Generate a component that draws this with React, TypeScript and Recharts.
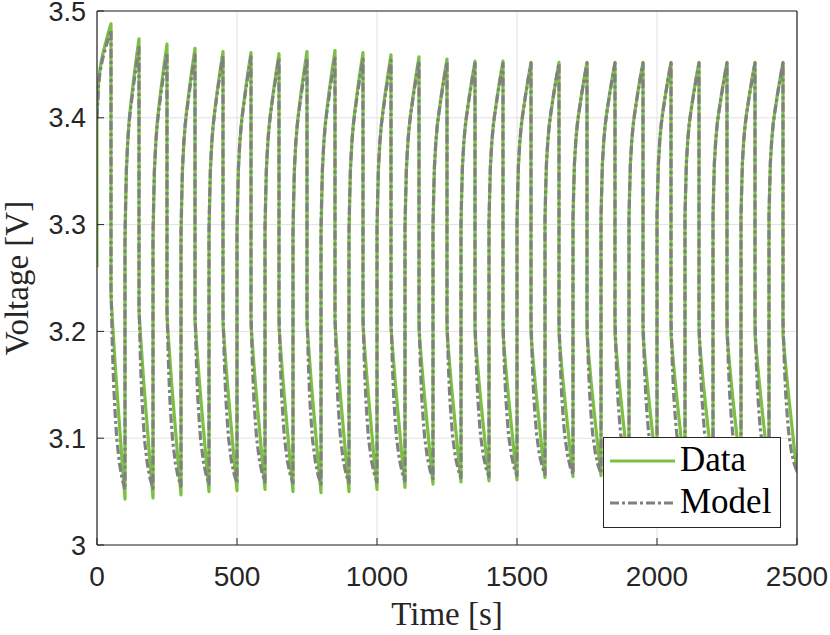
import { CartesianGrid, Label, Legend, Line, LineChart, XAxis, YAxis } from "recharts";

const timeTicks = [0, 500, 1000, 1500, 2000, 2500];
const voltageTicks = [3, 3.1, 3.2, 3.3, 3.4, 3.5];

// pulse timing [s]
const cyclePeriod = 100;
const halfPeriod = 50;

// voltage at t = 0, 100, ..., 2500 (start of each charge pulse / end of each rest-discharge)
const dataMins = [
  3.26, 3.043, 3.044, 3.047, 3.05, 3.051, 3.052, 3.05, 3.049, 3.05, 3.052, 3.054, 3.057,
  3.059, 3.06, 3.061, 3.063, 3.064, 3.065, 3.066, 3.066, 3.067, 3.067, 3.067, 3.068, 3.068,
];
const modelMins = [
  3.4, 3.052, 3.053, 3.055, 3.057, 3.058, 3.059, 3.058, 3.057, 3.058, 3.059, 3.06, 3.062,
  3.063, 3.064, 3.065, 3.066, 3.066, 3.067, 3.067, 3.068, 3.068, 3.068, 3.068, 3.069, 3.069,
];

// voltage at the end of each charge pulse (t = 50, 150, ...)
const dataPeaks = [
  3.488, 3.474, 3.469, 3.465, 3.462, 3.461, 3.46, 3.462, 3.463, 3.461, 3.459, 3.457, 3.455,
  3.453, 3.453, 3.452, 3.452, 3.452, 3.452, 3.452, 3.452, 3.452, 3.452, 3.452, 3.452,
];
const modelPeaks = [
  3.482, 3.466, 3.461, 3.459, 3.458, 3.457, 3.456, 3.456, 3.456, 3.455, 3.454, 3.453, 3.452,
  3.451, 3.451, 3.451, 3.451, 3.451, 3.451, 3.451, 3.451, 3.451, 3.451, 3.451, 3.451,
];

const firstPulseStart = 3.4;
const chargeStep = 0.24;
const dataDrop = 0.255;
const modelDrop = 0.24;

// shape of the voltage inside one half cycle (0 = start level, 1 = end level)
const riseOffsets = [0, 2, 5, 10, 15, 20, 30, 40, 50];
const riseShape = [0, 0.15, 0.35, 0.5, 0.6, 0.67, 0.79, 0.9, 1];
const decayOffsets = [0, 5, 10, 15, 20, 30, 40, 50];
const dataDecayShape = [0, 0.12, 0.23, 0.34, 0.44, 0.63, 0.82, 1];
const modelDecayShape = [0, 0.3, 0.5, 0.63, 0.74, 0.87, 0.95, 1];

const buildSeries = (mins: number[], peaks: number[], drop: number, decayShape: number[]) => {
  const pts: { t: number; v: number }[] = [];
  peaks.forEach((peak, k) => {
    const t0 = k * cyclePeriod;
    const start = k === 0 ? firstPulseStart : mins[k] + chargeStep;
    pts.push({ t: t0, v: mins[k] });
    riseOffsets.forEach((dt, i) => {
      pts.push({ t: t0 + dt, v: start + (peak - start) * riseShape[i] });
    });
    const low = peak - drop;
    decayOffsets.forEach((dt, i) => {
      pts.push({ t: t0 + halfPeriod + dt, v: low + (mins[k + 1] - low) * decayShape[i] });
    });
  });
  return pts;
};

const dataSeries = buildSeries(dataMins, dataPeaks, dataDrop, dataDecayShape);
const modelSeries = buildSeries(modelMins, modelPeaks, modelDrop, modelDecayShape);

const green = "#7BC043";
const gray = "#808080";
const axisColor = "#262626";
const serif = "'Liberation Serif', 'Times New Roman', serif";
const sans = "'Liberation Sans', Arial, sans-serif";
const tickLen = 7;

const seriesStyle: Record<string, { color: string; dash?: string }> = {
  Data: { color: green },
  Model: { color: gray, dash: "9 3 3 3" },
};

const BottomTick = (props: any) => {
  const { x, y, payload } = props;
  return (
    <g>
      <line x1={x} y1={y} x2={x} y2={y - tickLen} stroke={axisColor} strokeWidth={1} />
      <text x={x} y={y + 41} textAnchor="middle" fontFamily={sans} fontSize={28} fill={axisColor}>
        {payload.value}
      </text>
    </g>
  );
};

const TopTick = (props: any) => {
  const { x, y } = props;
  return <line x1={x} y1={y} x2={x} y2={y + tickLen} stroke={axisColor} strokeWidth={1} />;
};

const LeftTick = (props: any) => {
  const { x, y, payload } = props;
  return (
    <g>
      <line x1={x} y1={y} x2={x + tickLen} y2={y} stroke={axisColor} strokeWidth={1} />
      <text x={x - 11} y={y + 9.5} textAnchor="end" fontFamily={sans} fontSize={27} fill={axisColor}>
        {payload.value}
      </text>
    </g>
  );
};

const RightTick = (props: any) => {
  const { x, y } = props;
  return <line x1={x} y1={y} x2={x - tickLen} y2={y} stroke={axisColor} strokeWidth={1} />;
};

const LegendBox = (props: any) => {
  const { payload = [] } = props;
  return (
    <svg width={178} height={92} style={{ display: "block" }}>
      <rect x={0.5} y={0.5} width={177} height={90} fill="#fff" stroke={axisColor} strokeWidth={1} />
      {payload.map((entry: any, i: number) => {
        const style = seriesStyle[entry.value] || { color: entry.color };
        const cy = 24 + i * 42;
        return (
          <g key={entry.value}>
            <line
              x1={7}
              x2={72}
              y1={cy}
              y2={cy}
              stroke={style.color}
              strokeWidth={3}
              strokeDasharray={style.dash}
            />
            <text x={77} y={cy + 10} fontFamily={serif} fontSize={35} fill="#000">
              {entry.value}
            </text>
          </g>
        );
      })}
    </svg>
  );
};

const XLabel = (props: any) => {
  const { viewBox } = props;
  return (
    <text
      x={viewBox.x + viewBox.width / 2}
      y={viewBox.y + viewBox.height - 10}
      textAnchor="middle"
      fontFamily={serif}
      fontSize={33}
      fill={axisColor}
    >
      Time [s]
    </text>
  );
};

const YLabel = (props: any) => {
  const { viewBox } = props;
  const cx = viewBox.x + 28;
  const cy = viewBox.y + viewBox.height / 2;
  return (
    <text
      x={cx}
      y={cy}
      transform={`rotate(-90 ${cx} ${cy})`}
      textAnchor="middle"
      fontFamily={serif}
      fontSize={33}
      fill={axisColor}
    >
      Voltage [V]
    </text>
  );
};

export default function App() {
  return (
    <div style={{ position: "absolute", left: 0, top: 0, background: "#fff" }}>
      <LineChart width={830} height={635} margin={{ top: 10, right: 32, left: 0, bottom: 0 }}>
        <CartesianGrid xAxisId="bottom" yAxisId="left" stroke="#e2e2e2" strokeWidth={1} />
        <XAxis
          xAxisId="bottom"
          type="number"
          dataKey="t"
          domain={[0, 2500]}
          ticks={timeTicks}
          interval={0}
          allowDataOverflow
          height={90}
          tickSize={0}
          tickMargin={0}
          tickLine={false}
          tick={<BottomTick />}
          axisLine={{ stroke: axisColor, strokeWidth: 1.2 }}
        >
          <Label content={<XLabel />} />
        </XAxis>
        <XAxis
          xAxisId="top"
          orientation="top"
          type="number"
          dataKey="t"
          domain={[0, 2500]}
          ticks={timeTicks}
          interval={0}
          height={1}
          tickSize={0}
          tickMargin={0}
          tickLine={false}
          tick={<TopTick />}
          axisLine={{ stroke: axisColor, strokeWidth: 1.2 }}
        />
        <YAxis
          yAxisId="left"
          type="number"
          domain={[3, 3.5]}
          ticks={voltageTicks}
          interval={0}
          allowDataOverflow
          width={97}
          tickSize={0}
          tickMargin={0}
          tickLine={false}
          tick={<LeftTick />}
          axisLine={{ stroke: axisColor, strokeWidth: 1.2 }}
        >
          <Label content={<YLabel />} />
        </YAxis>
        <YAxis
          yAxisId="right"
          orientation="right"
          type="number"
          domain={[3, 3.5]}
          ticks={voltageTicks}
          interval={0}
          width={1}
          tickSize={0}
          tickMargin={0}
          tickLine={false}
          tick={<RightTick />}
          axisLine={{ stroke: axisColor, strokeWidth: 1.2 }}
        />
        <Line
          xAxisId="bottom"
          yAxisId="left"
          data={dataSeries}
          dataKey="v"
          name="Data"
          type="linear"
          stroke={green}
          strokeWidth={3.2}
          strokeLinejoin="round"
          dot={false}
          activeDot={false}
          isAnimationActive={false}
        />
        <Line
          xAxisId="bottom"
          yAxisId="left"
          data={modelSeries}
          dataKey="v"
          name="Model"
          type="linear"
          stroke={gray}
          strokeWidth={3.2}
          strokeDasharray="9 3 3 3"
          strokeLinejoin="round"
          dot={false}
          activeDot={false}
          isAnimationActive={false}
        />
        <Legend
          layout="vertical"
          align="center"
          verticalAlign="middle"
          content={<LegendBox />}
          wrapperStyle={{ left: 603, top: 437, width: 178, height: 92 }}
        />
      </LineChart>
    </div>
  );
}
